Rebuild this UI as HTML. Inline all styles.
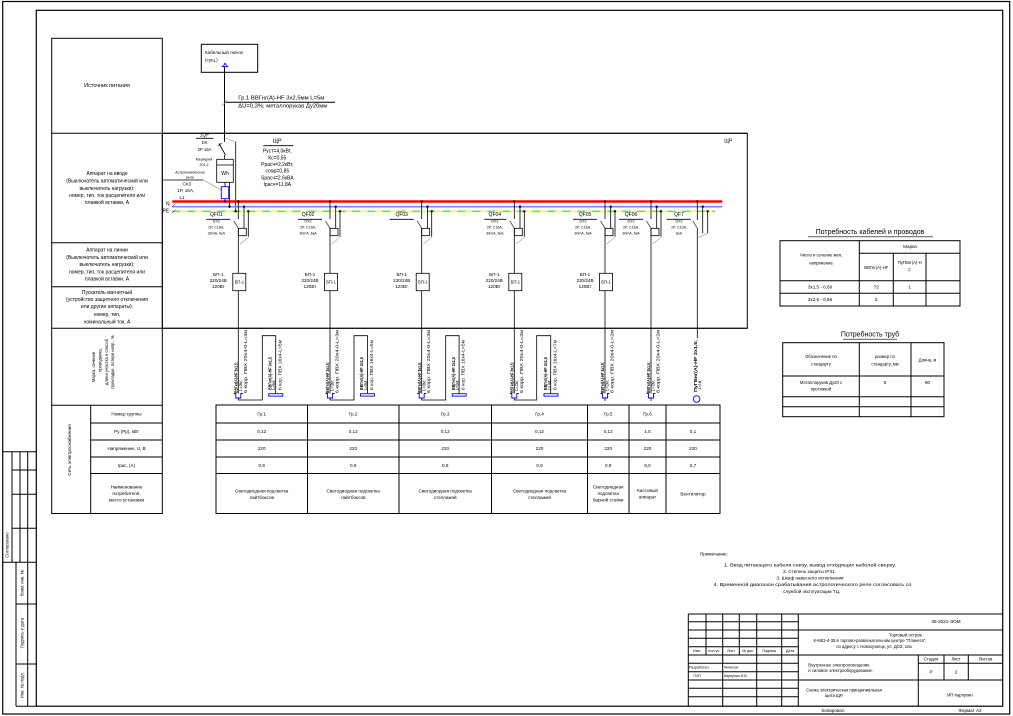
<!DOCTYPE html>
<html><head><meta charset="utf-8">
<style>
html,body{margin:0;padding:0;background:#fff;}
svg{display:block;}
</style></head><body>
<svg width="1013" height="716" viewBox="0 0 1013 716" xmlns="http://www.w3.org/2000/svg">
<style>
text{font-family:"Liberation Sans",sans-serif;dominant-baseline:central;fill:#000;stroke:none;}
.s35{font-size:3.6px}.s4{font-size:4.2px}.s45{font-size:4.6px}.s5{font-size:5px}.s55{font-size:5.5px}.s7{font-size:7px}
.m{text-anchor:middle}
.b{font-weight:bold}
</style>
<rect width="1013" height="716" fill="#fff"/>

<!-- frames -->
<g fill="none" stroke="#000" stroke-width="1.2">
<rect x="2.7" y="1.5" width="1007" height="712.5"/>
<rect x="36.3" y="10.3" width="966.4" height="695.9"/>
</g>

<!-- left stamp column -->
<g fill="none" stroke="#000" stroke-width="1">
<path d="M2.7,451.7H36.3M2.7,562.3H36.3M12,451.7V562.3M20,451.7V562.3M27.7,451.7V562.3M12,470H36.3M12,494.3H36.3M12,528.3H36.3"/>
<path d="M16,562.3V706.2M27.7,562.3V706.2M16,604H36.3M16,664H36.3M16,706.2H36.3"/>
</g>
<text class="s4 m" transform="translate(7,545) rotate(-90)">Согласовано</text>
<text class="s4 m" transform="translate(22,583) rotate(-90)">Взам. инв. №</text>
<text class="s4 m" transform="translate(22,633) rotate(-90)">Подпись и дата</text>
<text class="s4 m" transform="translate(22,685) rotate(-90)">Инв. № подл.</text>

<!-- left label table -->
<g fill="none" stroke="#000" stroke-width="1">
<rect x="51.7" y="38.3" width="110.6" height="475.2"/>
<path d="M51.7,133.3H747.3M51.7,242.7H162.3M51.7,286.7H162.3M51.7,328.3H747.3M51.7,405.3H162.3"/>
<path d="M90.7,405.3V513.5M90.7,423H162.3M90.7,440H162.3M90.7,457H162.3M90.7,473.5H162.3"/>
<rect x="162.3" y="133.3" width="585" height="195"/>
</g>
<text class="s55 m" x="107" y="86">Источник питания</text>
<g class="s5">
<text class="m s5" x="107" y="174">Аппарат на вводе</text>
<text class="m s5" x="107" y="181.5">(Выключатель автоматический или</text>
<text class="m s5" x="107" y="189">выключатель нагрузки):</text>
<text class="m s5" x="107" y="196">номер, тип, ток расцепителя или</text>
<text class="m s5" x="107" y="203">плавкой вставки, А</text>
<text class="m s5" x="107" y="250.7">Аппарат на линии</text>
<text class="m s5" x="107" y="258">(Выключатель автоматический или</text>
<text class="m s5" x="107" y="265">выключатель нагрузки):</text>
<text class="m s5" x="107" y="272.3">номер, тип, ток расцепителя или</text>
<text class="m s5" x="107" y="279.3">плавкой вставки, А</text>
<text class="m s5" x="107" y="293">Пускатель магнитный</text>
<text class="m s5" x="107" y="300">(устройство защитного отключения</text>
<text class="m s5" x="107" y="307">или другие аппараты):</text>
<text class="m s5" x="107" y="315">номер, тип,</text>
<text class="m s5" x="107" y="322.5">номинальный ток, А</text>
</g>
<text class="s4 m" transform="translate(93.3,367) rotate(-90)">Марка, сечение</text>
<text class="s4 m" transform="translate(100,360) rotate(-90)">проводника,</text>
<text class="s4 m" transform="translate(106.3,362) rotate(-90)">длина участка и способ</text>
<text class="s4 m" transform="translate(112.7,362) rotate(-90)">прокладки, потеря напр., %</text>
<text class="s45 m" transform="translate(69.5,450) rotate(-90)">Сеть электроснабжения</text>
<text class="s45 m" x="126.5" y="414">Номер группы</text>
<text class="s45 m" x="126.5" y="431.5">Pу (Pp), кВт</text>
<text class="s45 m" x="126.5" y="448.5">Напряжение, U, В</text>
<text class="s45 m" x="126.5" y="465.3">Iрас, (А)</text>
<text class="s45 m" x="126.5" y="487">Наименование</text>
<text class="s45 m" x="126.5" y="493.5">потребителя,</text>
<text class="s45 m" x="126.5" y="500">место установки</text>

<!-- top cable box -->
<g fill="none" stroke="#000" stroke-width="1">
<rect x="201.3" y="44.3" width="56.4" height="28"/>
<path d="M224.5,66.7V141.7M224.5,102.3H335"/>
</g>
<path d="M221.5,66.7H228.5M223,66.7L225,63.3L227,66.7" stroke="#0000ff" stroke-width="0.9" fill="none"/>
<text class="s45" x="205" y="52.3">Кабельный лючок</text>
<text class="s45" x="205" y="60">(сущ.)</text>
<text class="s5" x="238.3" y="98.5" textLength="86" lengthAdjust="spacingAndGlyphs">Гр.1  ВВГнг(А)-HF 3х2,5мм  L=5м</text>
<text class="s5" x="238.3" y="106.5" textLength="89" lengthAdjust="spacingAndGlyphs">ΔU=0,3%; металлорукав Ду20мм</text>
<path d="M222,106L227,100" stroke="#888" stroke-width="0.6"/>

<!-- main input -->
<g fill="none" stroke="#000" stroke-width="0.8">
<path d="M196,138.3H213.3"/>
<path d="M163.3,180H203.3"/>
<path d="M263.3,145.7H293.3"/>
<path d="M219,143.5L225.5,155M218.5,146L221.5,143M224.5,155V159.3"/>
<path d="M235.7,141.7V211.3"/>
<rect x="216.7" y="159.3" width="16.6" height="23"/>
<path d="M216.7,165H233.3"/>
<path d="M225,182.3V186.7M225,198.7V201.5M229.5,182.3V206.7"/>
</g>
<path d="M224.5,138L235.7,141.7" stroke="#999" stroke-width="0.6"/>
<path d="M203.3,180L221.3,190" stroke="#888" stroke-width="0.6"/>
<rect x="221.3" y="186.7" width="7.4" height="12" fill="none" stroke="#0000ff" stroke-width="0.9"/>
<text class="s5 m" x="225" y="174">Wh</text>
<text class="s5 m" x="204.5" y="135.5">1QF</text>
<text class="s4 m" x="204.5" y="142.7">DX</text>
<text class="s4 m" x="204.5" y="149.3">2P 16A</text>
<text class="s35 m" x="204" y="159.3">Меркурий</text>
<text class="s35 m" x="204" y="165">201.2</text>
<text class="s35 m" x="190" y="172.7">Астрономическое</text>
<text class="s35 m" x="190" y="177.7">реле</text>
<text class="s45 m" x="186.7" y="184">СХ3</text>
<text class="s45 m" x="185.7" y="190.7">1P, 16A,</text>
<text class="s45 m" x="182" y="197.3">L1</text>
<text class="s55 m" x="277.3" y="141.5">ЩР</text>
<text class="s5 m" x="277.3" y="151.7">Pуст=4,0кВт,</text>
<text class="s5 m" x="277.3" y="158.3">Кс=0,55</text>
<text class="s5 m" x="277.3" y="165">Pрасч=2,2кВт,</text>
<text class="s5 m" x="277.3" y="171.7">cosφ=0,85</text>
<text class="s5 m" x="277.3" y="178.3">Sрасч=2,6кВА</text>
<text class="s5 m" x="277.3" y="185">Iрасч=11,8А</text>
<text class="s5 m" x="728.3" y="141.7">ЩР</text>

<!-- buses -->
<line x1="172.3" y1="201.5" x2="722.3" y2="201.5" stroke="#ff0000" stroke-width="2.4"/>
<line x1="172.3" y1="206.7" x2="722.3" y2="206.7" stroke="#7f7fff" stroke-width="1.6"/>
<line x1="172.3" y1="211.3" x2="715" y2="211.3" stroke="#ffff33" stroke-width="1.6"/>
<line x1="172.3" y1="211.3" x2="715" y2="211.3" stroke="#66e64d" stroke-width="1.6" stroke-dasharray="8 7"/>
<text class="s5" x="166" y="204.5" fill="#000">N</text>
<text class="s5" x="162.5" y="211.5">PE</text>
<path d="M172,207L175.5,203.5M172,213L175.5,209.5" stroke="#000" stroke-width="0.5"/>
<g fill="#000">
<circle cx="225" cy="201.5" r="1.2"/><circle cx="229.5" cy="206.7" r="1.2"/><circle cx="235.7" cy="211.3" r="1.2"/>
</g>

<!-- group template: RCD groups -->
<!-- G1 -->
<g transform="translate(238.3,0)">
<g fill="none" stroke="#000" stroke-width="0.8">
<path d="M0,201.5V219M0,229V393.5M5.7,206.7V228.3M10,211.3V236.7M-32,219.3H-8"/>
<path d="M-4.5,221L0.5,229" stroke="#444"/>
<rect x="0" y="228.3" width="8" height="7.4"/>
<path d="M1.7,244L10,237.3" stroke="#999" stroke-width="0.6"/>
<rect x="-5.5" y="273.3" width="13" height="17.4" fill="#fff"/>
<path d="M0,398V400H24V335.7H37.4V393.7"/>
</g>
<g fill="#000"><circle cx="0" cy="201.5" r="1.2"/><circle cx="5.7" cy="206.7" r="1.2"/><circle cx="10" cy="211.3" r="1.2"/></g>
<path d="M-4.5,393.5H-2.5V398H2.5V393.5H4.5" stroke="#0000ff" stroke-width="0.9" fill="none"/>
<rect x="30.5" y="393.7" width="14" height="2.4" stroke="#0000ff" stroke-width="0.9" fill="none"/>
<text class="s5 m" x="-22" y="215">QF01</text>
<text class="s35 m" x="-22" y="221.7">DX3</text>
<text class="s35 m" x="-22" y="227.5">2P, C16A,</text>
<text class="s35 m" x="-22" y="233.3">30mA, 6кА</text>
<text class="s4 m" x="1" y="282">БП-1</text>
<text class="s45 m" x="-20" y="274.5">БП-1</text>
<text class="s45 m" x="-20" y="280.5">220/24В</text>
<text class="s45 m" x="-20" y="286.5">120Вт</text>
<text class="s4 b" transform="translate(-2.3,393) rotate(-90)" textLength="31" lengthAdjust="spacingAndGlyphs">ВВГнг(А)-HF 3х1,5;</text>
<text class="s4" transform="translate(2.2,391) rotate(-90)" textLength="11" lengthAdjust="spacingAndGlyphs">L=3м;</text>
<text class="s4" transform="translate(7,393) rotate(-90)" textLength="63" lengthAdjust="spacingAndGlyphs">6 корр. ПВХ 20х4-0-L=3м</text>
<text class="s4 b" transform="translate(31.7,390) rotate(-90)" textLength="33" lengthAdjust="spacingAndGlyphs">ВВГнг(А)-HF 3х1,5</text>
<text class="s4" transform="translate(35.3,390) rotate(-90)" textLength="10" lengthAdjust="spacingAndGlyphs">L=5м;</text>
<text class="s4" transform="translate(41.5,390) rotate(-90)" textLength="50" lengthAdjust="spacingAndGlyphs">6 кор. ПВХ 16х4-L=5м</text>
</g>

<!-- G2 -->
<g transform="translate(330,0)">
<g fill="none" stroke="#000" stroke-width="0.8">
<path d="M0,201.5V219M0,229V393.5M5.7,206.7V228.3M10,211.3V236.7M-32,219.3H-8"/>
<path d="M-4.5,221L0.5,229" stroke="#444"/>
<rect x="0" y="228.3" width="8" height="7.4"/>
<path d="M1.7,244L10,237.3" stroke="#999" stroke-width="0.6"/>
<rect x="-5.5" y="273.3" width="13" height="17.4" fill="#fff"/>
<path d="M0,398V400H24V335.7H37.4V393.7"/>
</g>
<g fill="#000"><circle cx="0" cy="201.5" r="1.2"/><circle cx="5.7" cy="206.7" r="1.2"/><circle cx="10" cy="211.3" r="1.2"/></g>
<path d="M-4.5,393.5H-2.5V398H2.5V393.5H4.5" stroke="#0000ff" stroke-width="0.9" fill="none"/>
<rect x="30.5" y="393.7" width="14" height="2.4" stroke="#0000ff" stroke-width="0.9" fill="none"/>
<text class="s5 m" x="-22" y="215">QF02</text>
<text class="s35 m" x="-22" y="221.7">DX3</text>
<text class="s35 m" x="-22" y="227.5">2P, C16A,</text>
<text class="s35 m" x="-22" y="233.3">30mA, 6кА</text>
<text class="s4 m" x="1" y="282">БП-1</text>
<text class="s45 m" x="-20" y="274.5">БП-1</text>
<text class="s45 m" x="-20" y="280.5">220/24В</text>
<text class="s45 m" x="-20" y="286.5">120Вт</text>
<text class="s4 b" transform="translate(-2.3,393) rotate(-90)" textLength="31" lengthAdjust="spacingAndGlyphs">ВВГнг(А)-HF 3х1,5;</text>
<text class="s4" transform="translate(2.2,391) rotate(-90)" textLength="11" lengthAdjust="spacingAndGlyphs">L=3м;</text>
<text class="s4" transform="translate(7,393) rotate(-90)" textLength="63" lengthAdjust="spacingAndGlyphs">6 корр. ПВХ 20х4-0-L=3м</text>
<text class="s4 b" transform="translate(31.7,390) rotate(-90)" textLength="33" lengthAdjust="spacingAndGlyphs">ВВГнг(А)-HF 3х1,5</text>
<text class="s4" transform="translate(35.3,390) rotate(-90)" textLength="10" lengthAdjust="spacingAndGlyphs">L=5м;</text>
<text class="s4" transform="translate(41.5,390) rotate(-90)" textLength="50" lengthAdjust="spacingAndGlyphs">6 кор. ПВХ 16х4-L=5м</text>
</g>

<!-- G3 -->
<g transform="translate(421.7,0)">
<g fill="none" stroke="#000" stroke-width="0.8">
<path d="M0,201.5V219M0,229V393.5M5.7,206.7V228.3M10,211.3V236.7M-32,219.3H-8"/>
<path d="M-4.5,221L0.5,229" stroke="#444"/>
<rect x="0" y="228.3" width="8" height="7.4"/>
<path d="M1.7,244L10,237.3" stroke="#999" stroke-width="0.6"/>
<rect x="-5.5" y="273.3" width="13" height="17.4" fill="#fff"/>
<path d="M0,398V400H24V335.7H37.4V393.7"/>
</g>
<g fill="#000"><circle cx="0" cy="201.5" r="1.2"/><circle cx="5.7" cy="206.7" r="1.2"/><circle cx="10" cy="211.3" r="1.2"/></g>
<path d="M-4.5,393.5H-2.5V398H2.5V393.5H4.5" stroke="#0000ff" stroke-width="0.9" fill="none"/>
<rect x="30.5" y="393.7" width="14" height="2.4" stroke="#0000ff" stroke-width="0.9" fill="none"/>
<text class="s5 m" x="-20" y="215">QF03</text>
<text class="s4 m" x="1" y="282">БП-1</text>
<text class="s45 m" x="-20" y="274.5">БП-1</text>
<text class="s45 m" x="-20" y="280.5">220/24В</text>
<text class="s45 m" x="-20" y="286.5">120Вт</text>
<text class="s4 b" transform="translate(-2.3,393) rotate(-90)" textLength="31" lengthAdjust="spacingAndGlyphs">ВВГнг(А)-HF 3х1,5;</text>
<text class="s4" transform="translate(2.2,391) rotate(-90)" textLength="11" lengthAdjust="spacingAndGlyphs">L=3м;</text>
<text class="s4" transform="translate(7,393) rotate(-90)" textLength="63" lengthAdjust="spacingAndGlyphs">6 корр. ПВХ 20х4-0-L=3м</text>
<text class="s4 b" transform="translate(31.7,390) rotate(-90)" textLength="33" lengthAdjust="spacingAndGlyphs">ВВГнг(А)-HF 3х1,5</text>
<text class="s4" transform="translate(35.3,390) rotate(-90)" textLength="10" lengthAdjust="spacingAndGlyphs">L=5м;</text>
<text class="s4" transform="translate(41.5,390) rotate(-90)" textLength="50" lengthAdjust="spacingAndGlyphs">6 кор. ПВХ 16х4-L=5м</text>
</g>

<!-- G4 -->
<g transform="translate(514.3,0)">
<g fill="none" stroke="#000" stroke-width="0.8">
<path d="M0,201.5V219M0,229V393.5M5.7,206.7V228.3M10,211.3V236.7M-30,219.3H-8"/>
<path d="M-4.5,221L0.5,229" stroke="#444"/>
<rect x="0" y="228.3" width="8" height="7.4"/>
<path d="M1.7,244L10,237.3" stroke="#999" stroke-width="0.6"/>
<rect x="-5.5" y="273.3" width="13" height="17.4" fill="#fff"/>
<path d="M0,398V400H22.4V335.7H36.4V393.7"/>
</g>
<g fill="#000"><circle cx="0" cy="201.5" r="1.2"/><circle cx="5.7" cy="206.7" r="1.2"/><circle cx="10" cy="211.3" r="1.2"/></g>
<path d="M-4.5,393.5H-2.5V398H2.5V393.5H4.5" stroke="#0000ff" stroke-width="0.9" fill="none"/>
<rect x="29.7" y="393.7" width="14" height="2.4" stroke="#0000ff" stroke-width="0.9" fill="none"/>
<text class="s5 m" x="-19.5" y="215">QF04</text>
<text class="s35 m" x="-19.5" y="221.7">DX3</text>
<text class="s35 m" x="-19.5" y="227.5">2P, C16A,</text>
<text class="s35 m" x="-19.5" y="233.3">30mA, 6кА</text>
<text class="s4 m" x="1" y="282">БП-1</text>
<text class="s45 m" x="-20" y="274.5">БП-1</text>
<text class="s45 m" x="-20" y="280.5">220/24В</text>
<text class="s45 m" x="-20" y="286.5">120Вт</text>
<text class="s4 b" transform="translate(-2.3,393) rotate(-90)" textLength="31" lengthAdjust="spacingAndGlyphs">ВВГнг(А)-HF 3х1,5;</text>
<text class="s4" transform="translate(2.2,391) rotate(-90)" textLength="11" lengthAdjust="spacingAndGlyphs">L=2м;</text>
<text class="s4" transform="translate(7,393) rotate(-90)" textLength="63" lengthAdjust="spacingAndGlyphs">6 корр. ПВХ 20х4-0-L=2м</text>
<text class="s4 b" transform="translate(31,390) rotate(-90)" textLength="33" lengthAdjust="spacingAndGlyphs">ВВГнг(А)-HF 3х1,5</text>
<text class="s4" transform="translate(34.5,390) rotate(-90)" textLength="10" lengthAdjust="spacingAndGlyphs">L=7м;</text>
<text class="s4" transform="translate(40.5,390) rotate(-90)" textLength="50" lengthAdjust="spacingAndGlyphs">6 кор. ПВХ 16х4-L=7м</text>
</g>

<!-- G5 -->
<g transform="translate(605,0)">
<g fill="none" stroke="#000" stroke-width="0.8">
<path d="M0,201.5V219M0,229V393.5M5.7,206.7V228.3M10,211.3V236.7M-32,219.3H-8"/>
<path d="M-4.5,221L0.5,229" stroke="#444"/>
<rect x="0" y="228.3" width="8" height="7.4"/>
<path d="M1.7,244L10,237.3" stroke="#999" stroke-width="0.6"/>
<rect x="-5.5" y="273.3" width="13" height="17.4" fill="#fff"/>
<path d="M0,398V401"/>
</g>
<g fill="#000"><circle cx="0" cy="201.5" r="1.2"/><circle cx="5.7" cy="206.7" r="1.2"/><circle cx="10" cy="211.3" r="1.2"/></g>
<path d="M-4.5,393.5H-2.5V398H2.5V393.5H4.5" stroke="#0000ff" stroke-width="0.9" fill="none"/>
<text class="s5 m" x="-20" y="215">QF05</text>
<text class="s35 m" x="-22" y="221.7">DX3</text>
<text class="s35 m" x="-22" y="227.5">2P, C16A,</text>
<text class="s35 m" x="-22" y="233.3">30mA, 6кА</text>
<text class="s4 m" x="1" y="282">БП-1</text>
<text class="s45 m" x="-20" y="274.5">БП-1</text>
<text class="s45 m" x="-20" y="280.5">220/24В</text>
<text class="s45 m" x="-20" y="286.5">120Вт</text>
<text class="s4 b" transform="translate(-2.3,393) rotate(-90)" textLength="31" lengthAdjust="spacingAndGlyphs">ВВГнг(А)-HF 3х1,5;</text>
<text class="s4" transform="translate(2.2,391) rotate(-90)" textLength="11" lengthAdjust="spacingAndGlyphs">L=2м;</text>
<text class="s4" transform="translate(7,393) rotate(-90)" textLength="63" lengthAdjust="spacingAndGlyphs">6 корр. ПВХ 20х4-0-L=2м</text>
</g>

<!-- G6 -->
<g transform="translate(651,0)">
<g fill="none" stroke="#000" stroke-width="0.8">
<path d="M0,201.5V219M0,229V393.5M5.7,206.7V228.3M10,211.3V236.7M-32,219.3H-8"/>
<path d="M-4.5,221L0.5,229" stroke="#444"/>
<rect x="0" y="228.3" width="8" height="7.4"/>
<path d="M1.7,244L10,237.3" stroke="#999" stroke-width="0.6"/>
<path d="M0,398V401"/>
</g>
<g fill="#000"><circle cx="0" cy="201.5" r="1.2"/><circle cx="5.7" cy="206.7" r="1.2"/><circle cx="10" cy="211.3" r="1.2"/></g>
<path d="M-4.5,393.5H-2.5V398H2.5V393.5H4.5" stroke="#0000ff" stroke-width="0.9" fill="none"/>
<text class="s5 m" x="-20" y="215">QF06</text>
<text class="s35 m" x="-20" y="221.7">DX3</text>
<text class="s35 m" x="-20" y="227.5">2P, C16A,</text>
<text class="s35 m" x="-20" y="233.3">30mA, 6кА</text>
<text class="s4 b" transform="translate(-2.3,393) rotate(-90)" textLength="31" lengthAdjust="spacingAndGlyphs">ВВГнг(А)-HF 3х1,5;</text>
<text class="s4" transform="translate(2.2,391) rotate(-90)" textLength="11" lengthAdjust="spacingAndGlyphs">L=2м;</text>
<text class="s4" transform="translate(7,393) rotate(-90)" textLength="63" lengthAdjust="spacingAndGlyphs">6 корр. ПВХ 20х4-0-L=2м</text>
</g>

<!-- G7 -->
<g transform="translate(697.3,0)">
<g fill="none" stroke="#000" stroke-width="0.8">
<path d="M0,201.5V220M0,229V338M5.4,206.7V233.3M10.4,211.3V233.3M-30.6,219.3H-6.6"/>
<path d="M-4.5,221L0.5,229" stroke="#444"/>
<path d="M0,238L10.4,233.3" stroke="#999" stroke-width="0.6"/>
</g>
<g fill="#000"><circle cx="0" cy="201.5" r="1.2"/><circle cx="5.4" cy="206.7" r="1.2"/><circle cx="10.4" cy="211.3" r="1.2"/></g>
<circle cx="-0.7" cy="399" r="3.3" fill="none" stroke="#0000ff" stroke-width="0.9"/>
<text class="s5 m" x="-18.3" y="215">QF7</text>
<text class="s35 m" x="-18.3" y="221.7">DX3</text>
<text class="s35 m" x="-18.3" y="227.5">1P, C10A,</text>
<text class="s35 m" x="-18.3" y="233.3">6кА</text>
<text class="s4 b" transform="translate(-2,392) rotate(-90)" textLength="52" lengthAdjust="spacingAndGlyphs">ПуГВнг(А)-HF 3х1,5;</text>
<text class="s4" transform="translate(2.3,389) rotate(-90)" textLength="9" lengthAdjust="spacingAndGlyphs">L=1м;</text>
</g>

<!-- main table -->
<g fill="none" stroke="#000" stroke-width="1">
<rect x="216" y="405" width="504" height="108.5"/>
<path d="M216,423H720M216,440H720M216,457H720M216,473.5H720"/>
<path d="M307.5,405V513.5M399,405V513.5M491.5,405V513.5M587.5,405V513.5M629,405V513.5M666,405V513.5"/>
</g>
<g class="s45">
<text class="s45 m" x="261.7" y="414">Гр.1</text>
<text class="s45 m" x="353.2" y="414">Гр.2</text>
<text class="s45 m" x="445.2" y="414">Гр.3</text>
<text class="s45 m" x="539.5" y="414">Гр.4</text>
<text class="s45 m" x="608.2" y="414">Гр.5</text>
<text class="s45 m" x="647.5" y="414">Гр.6</text>

<text class="s45 m" x="261.7" y="431.5">0,12</text>
<text class="s45 m" x="353.2" y="431.5">0,12</text>
<text class="s45 m" x="445.2" y="431.5">0,12</text>
<text class="s45 m" x="539.5" y="431.5">0,12</text>
<text class="s45 m" x="608.2" y="431.5">0,12</text>
<text class="s45 m" x="647.5" y="431.5">1,5</text>
<text class="s45 m" x="693" y="431.5">0,1</text>

<text class="s45 m" x="261.7" y="448.5">220</text>
<text class="s45 m" x="353.2" y="448.5">220</text>
<text class="s45 m" x="445.2" y="448.5">220</text>
<text class="s45 m" x="539.5" y="448.5">220</text>
<text class="s45 m" x="608.2" y="448.5">220</text>
<text class="s45 m" x="647.5" y="448.5">220</text>
<text class="s45 m" x="693" y="448.5">220</text>

<text class="s45 m" x="261.7" y="465.3">0,9</text>
<text class="s45 m" x="353.2" y="465.3">0,9</text>
<text class="s45 m" x="445.2" y="465.3">0,9</text>
<text class="s45 m" x="539.5" y="465.3">0,9</text>
<text class="s45 m" x="608.2" y="465.3">0,9</text>
<text class="s45 m" x="647.5" y="465.3">8,0</text>
<text class="s45 m" x="693" y="465.3">0,7</text>

<text class="s45 m" x="261.7" y="491">Светодиодная подсветка</text>
<text class="s45 m" x="261.7" y="497.5">лайтбоксов</text>
<text class="s45 m" x="353.2" y="491">Светодиодная подсветка</text>
<text class="s45 m" x="353.2" y="497.5">лайтбоксов</text>
<text class="s45 m" x="445.2" y="491">Светодиодная подсветка</text>
<text class="s45 m" x="445.2" y="497.5">стеллажей</text>
<text class="s45 m" x="539.5" y="491">Светодиодная подсветка</text>
<text class="s45 m" x="539.5" y="497.5">стеллажей</text>
<text class="s45 m" x="608.2" y="487">Светодиодная</text>
<text class="s45 m" x="608.2" y="493.5">подсветка</text>
<text class="s45 m" x="608.2" y="500">барной стойки</text>
<text class="s45 m" x="647.5" y="490.5">Кассовый</text>
<text class="s45 m" x="647.5" y="497">аппарат</text>
<text class="s45 m" x="693" y="494">Вентилятор</text>
</g>

<!-- right tables -->
<text class="s7 m" x="870" y="232.3">Потребность кабелей и проводов</text>
<path d="M808,236.8H933" stroke="#000" stroke-width="0.7"/>
<g fill="none" stroke="#000" stroke-width="1">
<rect x="780" y="240.7" width="180" height="65.3"/>
<path d="M859.3,240.7V306M859.3,253.3H960M893.3,253.3V306M926,253.3V306M780,280.7H960M780,293.3H960"/>
</g>
<text class="s45 m" x="910" y="246.5">Марка</text>
<text class="s4 m" x="821" y="255">Число и сечение жил,</text>
<text class="s4 m" x="821" y="263">напряжение</text>
<text class="s4 m" x="876.3" y="267.3">ВВГнг(А)-HF</text>
<text class="s4 m" x="909.7" y="262.7">ПуГВнг(А)-Н</text>
<text class="s4 m" x="909.7" y="270">F</text>
<text class="s45 m" x="820" y="287">3х1,5 - 0,66</text>
<text class="s45 m" x="876.3" y="287">72</text>
<text class="s45 m" x="909.7" y="287">1</text>
<text class="s45 m" x="820" y="299.5">3х2,5 - 0,66</text>
<text class="s45 m" x="876.3" y="299.5">5</text>

<text class="s7 m" x="870" y="335">Потребность труб</text>
<path d="M843,339.2H897" stroke="#000" stroke-width="0.7"/>
<g fill="none" stroke="#000" stroke-width="1">
<rect x="782.7" y="342.7" width="161.3" height="74"/>
<path d="M859.3,342.7V416.7M911,342.7V416.7M782.7,376H944M782.7,396.7H944M782.7,406.7H944"/>
</g>
<text class="s4 m" x="821" y="356.7">Обозначение по</text>
<text class="s4 m" x="821" y="364">стандарту</text>
<text class="s4 m" x="885" y="356.7">размер по</text>
<text class="s4 m" x="885" y="364">стандарту, мм</text>
<text class="s4 m" x="927.5" y="360">Длина, м</text>
<text class="s4 m" x="821" y="382.3">Металлорукав Ду20 с</text>
<text class="s4 m" x="821" y="389">протяжкой</text>
<text class="s45 m" x="885" y="382.3">5</text>
<text class="s45 m" x="927.5" y="382.3">80</text>

<!-- notes -->
<text class="s45" x="700" y="554">Примечание:</text>
<text class="s45 m" x="810" y="565" textLength="172" lengthAdjust="spacingAndGlyphs">1. Ввод питающего кабеля снизу, вывод отходящих кабелей сверху.</text>
<text class="s45 m" x="809.5" y="571.7">2. Степень защиты IP31.</text>
<text class="s45 m" x="810" y="577.8">3. Шкаф навесного исполнения</text>
<text class="s45 m" x="812.5" y="584.3" textLength="198" lengthAdjust="spacingAndGlyphs">4. Временной диапазон срабатывания астрологического реле согласовать со</text>
<text class="s45 m" x="811.7" y="591.3">службой эксплуатации ТЦ.</text>

<!-- title block -->
<g fill="none" stroke="#000" stroke-width="1">
<path d="M688.3,614H1002.7M688.3,614V706.2"/>
<path d="M688.3,621.7H798.3M688.3,630H1002.7M688.3,638.3H798.3M688.3,646.7H798.3M688.3,655H1002.7M688.3,663.3H798.3M918.3,663.3H1002.7M688.3,671.7H798.3M688.3,680H1002.7M688.3,688.3H798.3M688.3,696.7H798.3"/>
<path d="M706,614V655M722.7,614V706.2M739.3,614V655M756.7,614V706.2M781.7,614V706.2M798.3,614V706.2"/>
<path d="M918.3,655V706.2M944,655V680M968.3,655V680"/>
</g>
<text class="s35 m" x="697" y="651">Изм.</text>
<text class="s35 m" x="714.3" y="651">Кол.уч.</text>
<text class="s35 m" x="731" y="651">Лист</text>
<text class="s35 m" x="748" y="651">№ док.</text>
<text class="s35 m" x="769.2" y="651">Подпись</text>
<text class="s35 m" x="790" y="651">Дата</text>
<text class="s35" x="689" y="667.6">Разработал</text>
<text class="s35 m" x="697" y="675.8">ГИП</text>
<text class="s35" x="724" y="667.6">Чичисов</text>
<text class="s35" x="724" y="675.8">Карпухин И.В.</text>
<text class="s45 m" x="946" y="621.7">06-2021-ЭОМ</text>
<text class="s4 m" x="906" y="635">Торговый остров.</text>
<text class="s4 m" x="870" y="640.7">К-МК2-4-35 в торгово-развлекательном центре "Планета",</text>
<text class="s4 m" x="874" y="646.3">по адресу г. Новокузнецк, ул. ДОЗ, 10а</text>
<text class="s4" x="808.3" y="665">Внутреннее электроосвещение</text>
<text class="s4" x="808.3" y="670.7">и силовое электрооборудование.</text>
<text class="s4 m" x="931" y="659">Стадия</text>
<text class="s4 m" x="956" y="659">Лист</text>
<text class="s4 m" x="985.5" y="659">Листов</text>
<text class="s45 m" x="931" y="672">Р</text>
<text class="s45 m" x="956" y="672">2</text>
<text class="s4 m" x="844" y="690">Схема электрическая принципиальная</text>
<text class="s4 m" x="834" y="695.7">щита ЩР.</text>
<text class="s4 m" x="960" y="695">ИП Карпухин</text>
<text class="s45 m" x="833" y="710.5">Копировал</text>
<text class="s45 m" x="970" y="710.5">Формат А2</text>
</svg>
</body></html>
